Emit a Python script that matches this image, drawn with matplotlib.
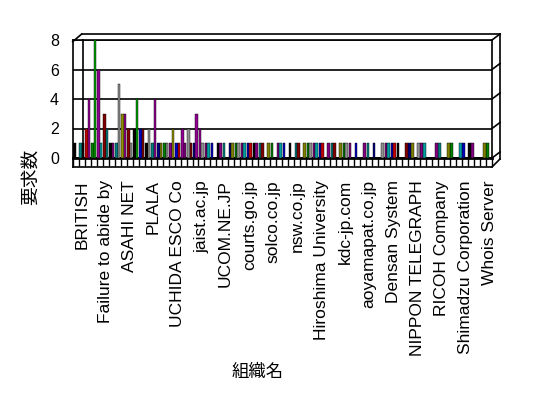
import matplotlib
matplotlib.use('Agg')
import matplotlib.pyplot as plt
from matplotlib.lines import Line2D
import numpy as np

W, H = 548, 398

# labelled organisations (every 4th category is labelled)
tick_labels = ["BRITISH", "Failure to abide by", "ASAHI NET", "PLALA",
               "UCHIDA ESCO Co", "jaist.ac.jp", "UCOM.NE.JP", "courts.go.jp",
               "solco.co.jp", "nsw.co.jp", "Hiroshima University", "kdc-jp.com",
               "aoyamapat.co.jp", "Densan System", "NIPPON TELEGRAPH",
               "RICOH Company", "Shimadzu Corporation", "Whois Server"]
n_categories = 70
label_start, label_step = 1, 4

series_a = [1, 1, 2, 1, 6, 3, 1, 1, 3, 2, 2, 2, 1, 1, 1, 1, 1, 1, 2, 2,
            1, 2, 1, 1, 1, 1, 1, 1, 1, 1, 1, 1, 0, 1, 1, 1, 1, 1, 0, 1,
            1, 1, 0, 1, 0, 1, 1, 1, 0, 1, 1, 0, 1, 1, 1, 0, 1, 0, 1, 0,
            0, 1, 0, 1, 0, 1, 1, 0, 0, 1]
series_b = [0, 1, 4, 8, 1, 2, 1, 5, 3, 1, 4, 2, 2, 4, 1, 1, 2, 1, 1, 1,
            3, 1, 1, 0, 1, 0, 1, 1, 1, 1, 1, 1, 1, 0, 1, 0, 0, 1, 1, 1,
            1, 1, 1, 1, 1, 1, 0, 0, 1, 0, 0, 1, 1, 1, 0, 1, 1, 1, 1, 0,
            1, 0, 1, 0, 1, 0, 1, 0, 1, 0]

y_ticks = [0, 2, 4, 6, 8]
x_title = "組織名"
y_title = "要求数"

# colour styling
palette = ['#000000', '#800080', '#008080', '#800000', '#000080', '#808000',
           '#008000', '#909090', '#800080', '#00a0a0', '#0000c0', '#c00000']
PUR, GRN, RED, DRED, TEAL, GRY, OLV, BLK, BLU = ('#900090', '#00a000', '#c00000', '#800000',
                                                 '#008080', '#909090', '#909000', '#000000', '#0000c0')
color_override = {
    ('a', 2): RED, ('b', 2): PUR, ('b', 3): GRN, ('a', 4): PUR, ('a', 5): DRED,
    ('b', 5): TEAL, ('b', 7): GRY, ('a', 8): OLV, ('b', 8): PUR, ('a', 9): DRED,
    ('a', 10): BLK, ('b', 10): GRN, ('a', 11): BLU, ('b', 11): DRED, ('b', 12): GRY,
    ('b', 13): PUR, ('b', 16): OLV, ('a', 18): PUR, ('a', 19): GRY, ('b', 20): PUR,
    ('a', 21): PUR,
}

plt.rcParams['font.family'] = ['Liberation Sans', 'DejaVu Sans']

fig = plt.figure(figsize=(W / 100, H / 100), dpi=100)
fig.patch.set_facecolor('white')

x_left, x_right, y_top, y_zero = 72.7, 492.0, 40.0, 158.0
ax = fig.add_axes([x_left / W, 1 - y_zero / H, (x_right - x_left) / W, (y_zero - y_top) / H])

x = np.arange(n_categories)
bw = 0.44
cols_a = [color_override.get(('a', i), palette[(2 * i) % len(palette)]) for i in range(n_categories)]
cols_b = [color_override.get(('b', i), palette[(2 * i + 1) % len(palette)]) for i in range(n_categories)]
ax.bar(x - 0.22, series_a, width=bw, color=cols_a, edgecolor='black', linewidth=0.3, zorder=3)
ax.bar(x + 0.22, series_b, width=bw, color=cols_b, edgecolor='black', linewidth=0.3, zorder=3)

ax.set_xlim(-0.5, n_categories - 0.5)
ax.set_ylim(0, 8)

# y axis
ax.set_yticks(y_ticks)
ax.set_yticklabels([str(v) for v in y_ticks], fontsize=11.5)
ax.tick_params(axis='y', length=0, pad=10)
ax.yaxis.grid(True, color='black', linewidth=1.2, zorder=0)

# x axis: tick marks between categories, labels on every 4th category
ax.set_xticks(np.arange(n_categories + 1) - 0.5)
ax.set_xticklabels([])
ax.tick_params(axis='x', which='major', length=6, width=1, direction='out')
lab_pos = [label_start + label_step * k for k in range(len(tick_labels))]
ax.set_xticks(lab_pos, minor=True)
ax.set_xticklabels(tick_labels, minor=True, rotation=90, fontsize=12.5, va='top', ha='center')
ax.tick_params(axis='x', which='minor', length=0, pad=16)

for s in ax.spines.values():
    s.set_color('black')
    s.set_linewidth(1.2)
ax.spines['bottom'].set_linewidth(2.0)


def line(xs, ys, lw=1.2):
    fig.add_artist(Line2D([v / W for v in xs], [1 - v / H for v in ys],
                          transform=fig.transFigure, color='black', linewidth=lw))


# 3D-like box decorations
line([81.7, 500], [34, 34])
line([72.7, 81.7], [41.7, 34])
line([500, 500], [34, 159])
line([492, 500], [167, 159])
line([83.3, 83.3], [40, 158])
line([72.7, 492], [167, 167])
line([72.7, 72.7], [158, 167])
for gy in [40, 69.5, 99, 128.5, 158]:
    line([492, 500], [gy, gy - 6])

fig.text(30 / W, 1 - 177 / H, y_title, rotation=90, ha='center', va='center',
         fontsize=13.5, family=['Noto Sans CJK JP', 'DejaVu Sans'])
fig.text(258 / W, 1 - 372 / H, x_title, ha='center', va='center',
         fontsize=12.5, family=['Noto Sans CJK JP', 'DejaVu Sans'])

fig.savefig('out.png', dpi=100, facecolor='white')
